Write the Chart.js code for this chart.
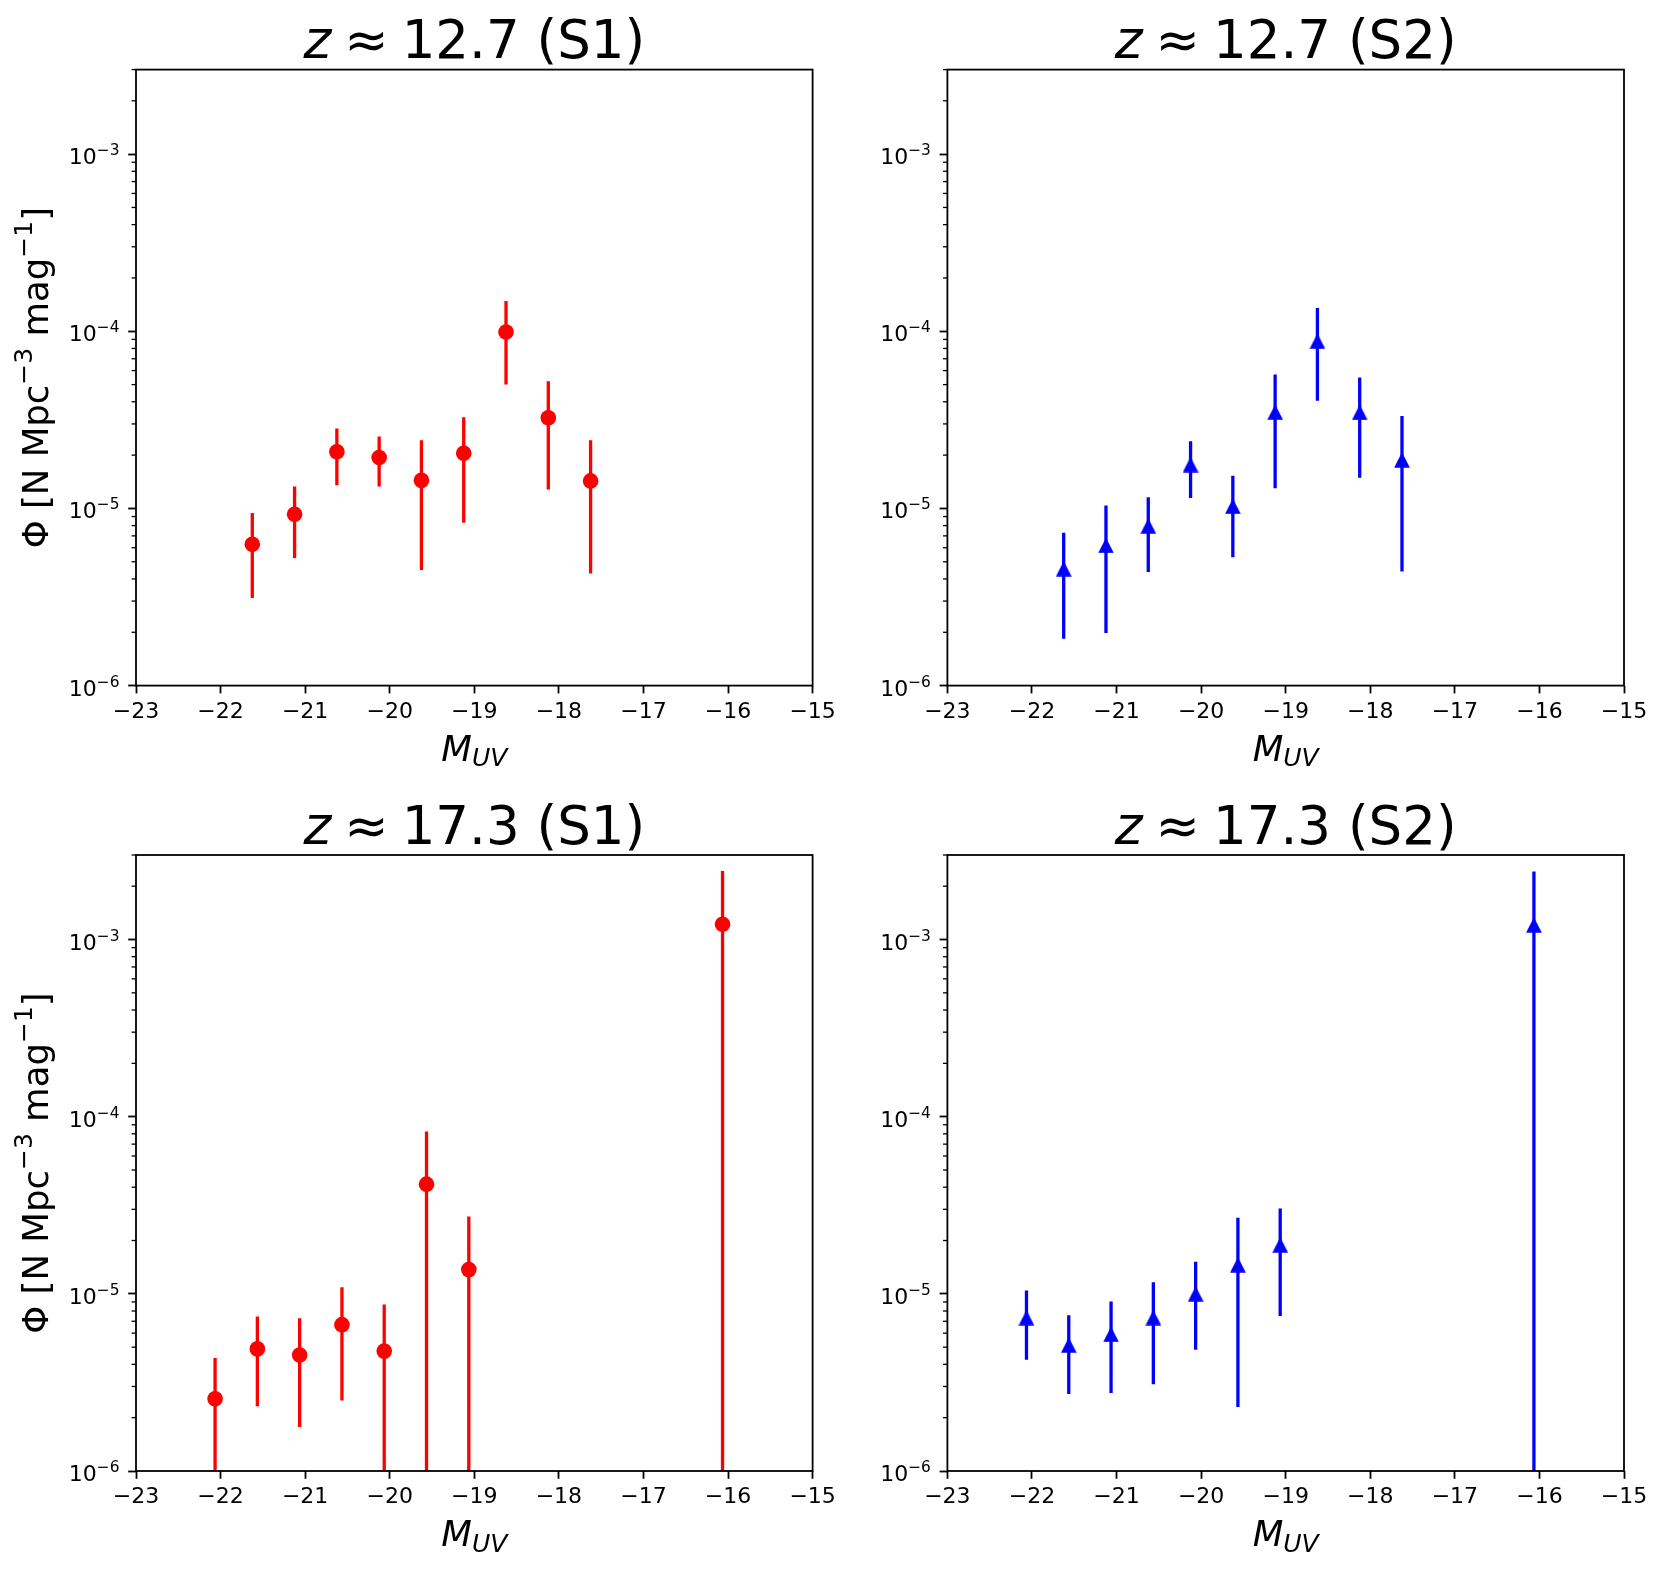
<!DOCTYPE html>
<html>
<head>
<meta charset="utf-8">
<title>UV luminosity function, z ~ 12.7 and z ~ 17.3</title>
<script src="https://cdn.jsdelivr.net/npm/chart.js@4.4.1/dist/chart.umd.min.js"></script>
<style>
  body { margin: 0; background: #fff; }
  #wrap { position: relative; width: 1663px; height: 1570px; background: #fff; overflow: hidden; }
  canvas { position: absolute; }
</style>
</head>
<body>
<div id="wrap">
  <canvas id="c1" width="870" height="785" style="left:0;top:0"></canvas>
  <canvas id="c2" width="832" height="785" style="left:831px;top:0"></canvas>
  <canvas id="c3" width="870" height="785" style="left:0;top:785px"></canvas>
  <canvas id="c4" width="832" height="785" style="left:831px;top:785px"></canvas>
</div>
<script>
// magnitude bin centres
var magZ127 = [-21.625, -21.125, -20.625, -20.125, -19.625, -19.125, -18.625, -18.125, -17.625];
var magZ173 = [-22.065, -21.565, -21.065, -20.565, -20.065, -19.565, -19.065, -16.065];

// Phi and its (symmetric) error
var phiS1z127 = [6.28e-6, 9.28e-6, 2.09e-5, 1.94e-5, 1.44e-5, 2.05e-5, 9.9e-5, 3.25e-5, 1.43e-5];
var errS1z127 = [3.16e-6, 4.03e-6, 7.4e-6, 6.1e-6, 9.9e-6, 1.22e-5, 4.9e-5, 1.97e-5, 1.0e-5];
var phiS2z127 = [4.57e-6, 6.19e-6, 7.97e-6, 1.77e-5, 1.03e-5, 3.5e-5, 8.8e-5, 3.49e-5, 1.88e-5];
var errS2z127 = [2.73e-6, 4.21e-6, 3.59e-6, 6.25e-6, 4.99e-6, 2.2e-5, 4.75e-5, 2.0e-5, 1.44e-5];
var phiS1z173 = [2.56e-6, 4.89e-6, 4.52e-6, 6.7e-6, 4.75e-6, 4.16e-5, 1.37e-5, 1.22e-3];
var errS1z173 = [1.79e-6, 2.57e-6, 2.75e-6, 4.2e-6, 3.95e-6, 4.1e-5, 1.36e-5, 1.22e-3];
var phiS2z173 = [7.34e-6, 5.14e-6, 5.91e-6, 7.35e-6, 1.0e-5, 1.46e-5, 1.89e-5, 1.21e-3];
var errS2z173 = [3.1e-6, 2.42e-6, 3.15e-6, 4.26e-6, 5.17e-6, 1.23e-5, 1.14e-5, 1.21e-3];

var yTicks = [1e-6, 1e-5, 1e-4, 1e-3];
var yMin = 1e-6, yMax = 3e-3;
var xMin = -23, xMax = -15;

var FONT = '"DejaVu Sans"';

function triangleMarker(color) {
    var c = document.createElement('canvas');
    c.width = 16; c.height = 16;
    var g = c.getContext('2d');
    g.fillStyle = color;
    g.beginPath();
    g.moveTo(8, 0.2);
    g.lineTo(15.8, 15.8);
    g.lineTo(0.2, 15.8);
    g.closePath();
    g.fill();
    return c;
}

function points(mags, vals) {
    return mags.map(function(m, i) { return {x: m, y: vals[i]}; });
}

// vertical error segments, broken by nulls
function errorSegments(mags, vals, errs) {
    var out = [];
    for (var i = 0; i < mags.length; i++) {
        out.push({x: mags[i], y: Math.max(vals[i] - errs[i], 1e-9)});
        out.push({x: mags[i], y: vals[i] + errs[i]});
        out.push({x: mags[i], y: null});
    }
    return out;
}

function drawRun(ctx, pieces, cx, y) {
    var total = 0;
    pieces.forEach(function(p) {
        if (p.gap) { p.w = p.gap; }
        else { ctx.font = p.f; p.w = ctx.measureText(p.t).width; }
        total += p.w;
    });
    var x = cx - total / 2;
    pieces.forEach(function(p) {
        if (!p.gap) {
            ctx.font = p.f;
            ctx.fillText(p.t, x, y + (p.dy || 0));
        }
        x += p.w;
    });
}

var panelText = {
    id: 'panelText',
    afterDraw: function(chart, args, opts) {
        var ctx = chart.ctx, a = chart.chartArea, ys = chart.scales.y;
        var cx = (a.left + a.right) / 2;
        ctx.save();
        ctx.fillStyle = '#000';
        ctx.textAlign = 'left';
        ctx.textBaseline = 'alphabetic';

        // y tick labels 10^k with a mathtext-like superscript
        ys.ticks.forEach(function(t) {
            var py = ys.getPixelForValue(t.value);
            var sup = '\u2212' + String(-Math.round(Math.log10(t.value)));
            ctx.font = '15.4px ' + FONT;
            var ws = ctx.measureText(sup).width;
            ctx.font = '22px ' + FONT;
            var wb = ctx.measureText('10').width;
            var xr = a.left - 16.5;
            ctx.fillText('10', xr - ws - wb, py + 10);
            ctx.font = '15.4px ' + FONT;
            ctx.fillText(sup, xr - ws, py + 1);
        });

        drawRun(ctx, [
            {t: 'z', f: 'italic 53px ' + FONT},
            {gap: 13},
            {t: '\u2248', f: '53px ' + FONT},
            {gap: 13},
            {t: opts.title, f: '53px ' + FONT}
        ], cx, a.top - 11.5);
        drawRun(ctx, [
            {t: 'M', f: 'italic 35.5px ' + FONT},
            {t: 'UV', f: 'italic 25px ' + FONT, dy: 5.5}
        ], cx, a.bottom + 75);
        if (opts.ylabel) {
            ctx.translate(a.left - 87.7, (a.top + a.bottom) / 2);
            ctx.rotate(-Math.PI / 2);
            drawRun(ctx, [
                {t: '\u03A6 [N Mpc', f: '35.5px ' + FONT},
                {t: '\u22123', f: '25px ' + FONT, dy: -16},
                {t: ' mag', f: '35.5px ' + FONT},
                {t: '\u22121', f: '25px ' + FONT, dy: -16},
                {t: ']', f: '35.5px ' + FONT}
            ], 0, 0);
        }
        ctx.restore();
    }
};

var frame = {
    id: 'frame',
    afterDatasetsDraw: function(chart) {
        var ctx = chart.ctx, a = chart.chartArea, ys = chart.scales.y;
        ctx.save();
        ctx.strokeStyle = '#000';
        ctx.lineWidth = 1.3;
        for (var k = -6; k <= -3; k++) {
            for (var m = 2; m <= 9; m++) {
                var v = m * Math.pow(10, k);
                if (v > ys.max * 1.0001) continue;
                var py = ys.getPixelForValue(v);
                ctx.beginPath();
                ctx.moveTo(a.left - 4.4, py);
                ctx.lineTo(a.left, py);
                ctx.stroke();
            }
        }
        ctx.lineWidth = 1.8;
        ctx.strokeRect(a.left, a.top, a.right - a.left, a.bottom - a.top);
        ctx.restore();
    }
};

function makePanel(id, box, area, mags, vals, errs, color, marker, title, ylabel) {
    new Chart(document.getElementById(id), {
        type: 'scatter',
        data: {
            datasets: [
                {
                    data: points(mags, vals),
                    pointStyle: marker,
                    pointRadius: 7.8,
                    pointHoverRadius: 7.8,
                    pointBackgroundColor: color,
                    pointBorderWidth: 0,
                    showLine: false
                },
                {
                    type: 'line',
                    data: errorSegments(mags, vals, errs),
                    borderColor: color,
                    borderWidth: 3.3,
                    pointRadius: 0,
                    spanGaps: false,
                    fill: false,
                    clip: 0
                }
            ]
        },
        options: {
            responsive: false,
            animation: false,
            events: [],
            layout: {
                padding: {
                    left: 0,
                    top: area.t - box.y,
                    right: box.x + box.w - area.r,
                    bottom: box.y + box.h - area.b - 60
                }
            },
            plugins: {
                legend: {display: false},
                tooltip: {enabled: false},
                panelText: {title: title, ylabel: ylabel}
            },
            scales: {
                x: {
                    type: 'linear',
                    min: xMin,
                    max: xMax,
                    border: {display: false},
                    grid: {drawOnChartArea: false, drawTicks: true, tickLength: 7.8, tickWidth: 1.8, tickColor: '#000'},
                    ticks: {
                        stepSize: 1,
                        autoSkip: false,
                        maxRotation: 0,
                        padding: 5.5,
                        color: '#000',
                        font: {family: 'DejaVu Sans', size: 22},
                        callback: function(v) { return v < 0 ? '\u2212' + (-v) : String(v); }
                    },
                    afterFit: function(s) { s.height = 60; s.paddingLeft = 0; s.paddingRight = 0; }
                },
                y: {
                    type: 'logarithmic',
                    min: yMin,
                    max: yMax,
                    border: {display: false},
                    grid: {drawOnChartArea: false, drawTicks: true, tickLength: 7.8, tickWidth: 1.8, tickColor: '#000'},
                    afterBuildTicks: function(s) {
                        s.ticks = yTicks.map(function(v) { return {value: v}; });
                    },
                    ticks: {display: false},
                    afterFit: function(s) { s.width = area.l - box.x; s.paddingTop = 0; s.paddingBottom = 0; }
                }
            }
        },
        plugins: [frame, panelText]
    });
}

var red = '#ff0000', blue = '#0000ff';

makePanel('c1', {x: 0, y: 0, w: 870, h: 785}, {l: 136, t: 69.6, r: 812.6, b: 685.6},
          magZ127, phiS1z127, errS1z127, red, 'circle', '12.7 (S1)', true);
makePanel('c2', {x: 831, y: 0, w: 832, h: 785}, {l: 947.4, t: 69.6, r: 1624, b: 685.6},
          magZ127, phiS2z127, errS2z127, blue, triangleMarker(blue), '12.7 (S2)', false);
makePanel('c3', {x: 0, y: 785, w: 870, h: 785}, {l: 136, t: 855, r: 812.6, b: 1471},
          magZ173, phiS1z173, errS1z173, red, 'circle', '17.3 (S1)', true);
makePanel('c4', {x: 831, y: 785, w: 832, h: 785}, {l: 947.4, t: 855, r: 1624, b: 1471},
          magZ173, phiS2z173, errS2z173, blue, triangleMarker(blue), '17.3 (S2)', false);
</script>
</body>
</html>
